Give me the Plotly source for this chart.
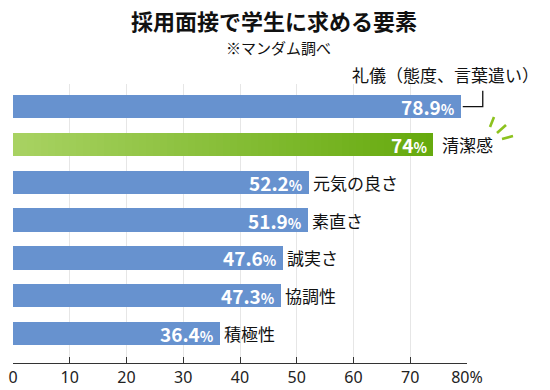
import plotly.graph_objects as go

# ---- data ----
categories = ["礼儀（態度、言葉遣い）", "清潔感", "元気の良さ", "素直さ", "誠実さ", "協調性", "積極性"]
values = [78.9, 74, 52.2, 51.9, 47.6, 47.3, 36.4]
value_labels = ["78.9", "74", "52.2", "51.9", "47.6", "47.3", "36.4"]
tick_vals = [0, 10, 20, 30, 40, 50, 60, 70, 80]
tick_text = ["0", "10", "20", "30", "40", "50", "60", "70", "80%"]
title = "採用面接で学生に求める要素"
subtitle = "※マンダム調べ"
highlight = "清潔感"

FONT = "Noto Sans CJK JP"
BLUE = "#6792cf"
W, H = 550, 390
ML, MR, MT, MB = 13, 83, 84, 27
XR = [0, 80]
YR = [6.78, -0.60]

def lerp_color(c1, c2, t):
    a = [int(c1[i:i + 2], 16) for i in (1, 3, 5)]
    b = [int(c2[i:i + 2], 16) for i in (1, 3, 5)]
    return "rgb(%d,%d,%d)" % tuple(round(a[k] + (b[k] - a[k]) * t) for k in range(3))

PW = W - ML - MR
PH = H - MT - MB

def pxx(p):
    return (p - ML) / PW

def pyy(p):
    return (H - MB - p) / PH

def dx_paper(v):
    return (v - XR[0]) / (XR[1] - XR[0])

def dy_paper(v):
    return (YR[0] - v) / (YR[0] - YR[1])

pos = list(range(len(categories)))
fig = go.Figure()

# blue bars (all except highlight)
blue_y = [p for p, c in zip(pos, categories) if c != highlight]
blue_x = [v for c, v in zip(categories, values) if c != highlight]
fig.add_trace(go.Bar(
    y=blue_y, x=blue_x, orientation="h", width=0.62,
    marker=dict(color=BLUE, line=dict(width=0)), hoverinfo="skip", showlegend=False))

# green gradient bar built from segments
hi = categories.index(highlight)
hv = values[hi]
N = 60
seg = hv / N
fig.add_trace(go.Bar(
    y=[pos[hi]] * N, x=[seg * 1.15 if i < N - 1 else seg for i in range(N)],
    base=[i * seg for i in range(N)],
    orientation="h", width=0.62,
    marker=dict(color=[lerp_color("#a8d262", "#66aa0e", i / (N - 1)) for i in range(N)],
                line=dict(width=0)),
    hoverinfo="skip", showlegend=False))

annotations = []
for i, (p, c, v, lab) in enumerate(zip(pos, categories, values, value_labels)):
    annotations.append(dict(
        x=v, y=p, xref="x", yref="y", xanchor="right", yanchor="middle",
        xshift=-4, showarrow=False,
        text="<b>%s</b><span style='font-size:14px'><b>%%</b></span>" % lab,
        font=dict(family=FONT, size=19, color="white")))
    if i == 0:
        annotations.append(dict(
            x=v, y=p, xref="x", yref="y", xanchor="right", yanchor="middle",
            xshift=80, yshift=32, showarrow=False, text=c,
            font=dict(family=FONT, size=17, color="#111")))
    else:
        annotations.append(dict(
            x=v, y=p, xref="x", yref="y", xanchor="left", yanchor="middle",
            xshift=7 if c == highlight else 2, showarrow=False, text=c,
            font=dict(family=FONT, size=17, color="#111")))

annotations.append(dict(x=pxx(273.5), y=pyy(20), xref="paper", yref="paper",
                        xanchor="center", yanchor="middle", showarrow=False,
                        text="<b>%s</b>" % title,
                        font=dict(family=FONT, size=22, color="#111")))
annotations.append(dict(x=pxx(278), y=pyy(47.5), xref="paper", yref="paper",
                        xanchor="center", yanchor="middle", showarrow=False,
                        text=subtitle, font=dict(family=FONT, size=15, color="#111")))

shapes = []
# bracket line from first bar to its label (paper refs so it is not clipped)
bx0 = dx_paper(values[0]) + 2 / PW
bx1 = dx_paper(values[0]) + 22 / PW
by0 = dy_paper(pos[0])
by1 = by0 + 16 / PH
shapes.append(dict(type="path", xref="paper", yref="paper",
                   path="M %f,%f L %f,%f L %f,%f" % (bx0, by0, bx1, by0, bx1, by1),
                   line=dict(color="#111", width=1.3)))
# burst strokes near highlight label
for (x0, y0, x1, y1) in [(490, 127, 494, 117), (497, 133, 506, 125), (502, 139, 513, 136)]:
    shapes.append(dict(type="line", xref="paper", yref="paper",
                       x0=pxx(x0), y0=pyy(y0), x1=pxx(x1), y1=pyy(y1),
                       line=dict(color="#8cc21e", width=2.6)))

fig.update_layout(
    width=W, height=H, margin=dict(l=ML, r=MR, t=MT, b=MB, autoexpand=False),
    paper_bgcolor="white", plot_bgcolor="white",
    barmode="overlay", bargap=0,
    showlegend=False,
    annotations=annotations, shapes=shapes,
    xaxis=dict(range=XR, tickvals=tick_vals, ticktext=tick_text,
               showgrid=True, gridcolor="#e6e6e6", gridwidth=1,
               zeroline=False, showline=True, linecolor="#333", linewidth=1.3,
               ticks="inside", ticklen=6, tickcolor="#333", tickwidth=1.3,
               tickfont=dict(family="Noto Sans", size=16, color="#222"),
               automargin=False, fixedrange=True),
    yaxis=dict(range=YR, showticklabels=False, showgrid=False,
               zeroline=False, showline=False, ticks="", automargin=False, fixedrange=True),
)

fig.write_html("out.html", config={"displayModeBar": False},
               post_script="document.body.style.margin='0';document.body.style.padding='0';")
